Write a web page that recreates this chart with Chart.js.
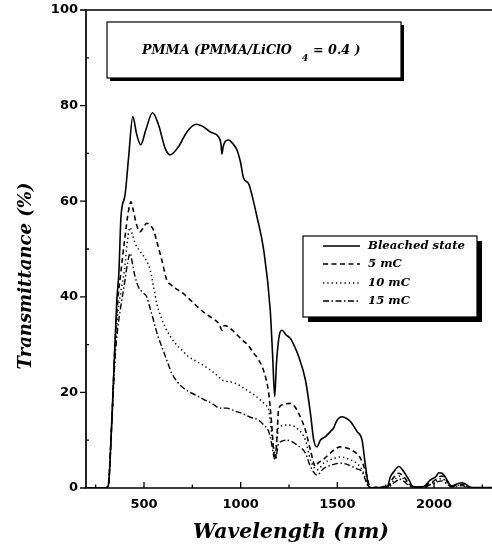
<!DOCTYPE html>
<html><head><meta charset="utf-8">
<script src="https://cdn.jsdelivr.net/npm/chart.js@4/dist/chart.umd.min.js"></script>
<style>html,body{margin:0;padding:0;background:#fff;}canvas{display:block;}</style>
</head><body>
<canvas id="c" width="492" height="551"></canvas>
<script>
const SERIES_LABELS = ['Bleached state', '5 mC', '10 mC', '15 mC'];

const WL_BLEACHED = [200,300,315,333,359,370,381,402,420,442,462,483,510,544,575,610,635,680,722,770,810,842,885,898,903,910,920,937,960,981,1000,1015,1041,1060,1084,1119,1153,1165,1176,1185,1200,1214,1235,1257,1280,1300,1335,1361,1378,1395,1412,1437,1464,1480,1499,1524,1550,1568,1602,1628,1646,1663,1680,1700,1720,1740,1758,1775,1792,1818,1844,1870,1892,1920,1948,1965,1982,1995,2010,2025,2042,2060,2080,2094,2110,2130,2146,2165,2180,2200,2300];
const T_BLEACHED = [0,0,0.5,13.5,39,45,56.8,61.3,69,77.7,74,71.8,75,78.5,76,71,69.7,71.5,74.5,76.1,75.5,74.5,73.5,72,69.9,71.5,72.5,72.8,72,70.7,68,64.8,63.7,61,56.8,49.8,37.2,28,19.1,26,32,33,32,31.3,29.5,27.5,22.6,15.6,10,8.6,10,10.7,11.8,12.5,14.2,14.9,14.5,13.9,11.8,10,4.5,0.3,0,0.2,0,0.3,0.3,2.4,3.4,4.5,3.4,1.7,0.3,0.2,0.3,1.0,1.7,2.0,2.4,3.2,3.1,2.2,0.8,0.4,0.7,1.0,1.1,0.8,0.3,0.1,0.1];

const WL_5MC = [200,300,315,333,350,363,380,400,420,433,445,462,480,497,514,530,549,570,592,618,640,661,700,730,780,817,868,890,903,915,937,970,1007,1040,1067,1090,1119,1145,1160,1170,1179,1188,1196,1214,1257,1280,1300,1335,1361,1387,1400,1425,1464,1490,1516,1545,1576,1620,1654,1670,1700,1760,1780,1800,1818,1840,1870,1892,1950,1975,2000,2020,2042,2065,2090,2120,2146,2175,2200,2300];
const T_5MC = [0,0,0.5,13.5,30,38.7,45,52,58,59.9,58,55,53.6,54.5,55.4,55,54,51,47.7,43.5,42.5,41.8,40.8,39.7,37.8,36.5,35.1,34.2,33,34,33.7,32.5,31,29.8,28.2,27,24.5,19.8,13.5,8,6,11,16.3,17.4,17.7,17,15.6,12.1,7.9,4.5,5.2,5.9,7.3,8.2,8.6,8.4,7.9,6.2,2.4,0,0.1,0.2,1.6,2.6,3.1,2.5,1.0,0.2,0.2,1.0,1.5,2.2,2.5,1.6,0.4,0.6,0.8,0.3,0,0];

const WL_10MC = [200,300,315,333,350,363,380,400,415,428,440,454,480,506,532,550,566,590,609,635,661,700,730,780,817,860,885,903,920,972,1020,1058,1100,1127,1145,1160,1170,1179,1188,1196,1239,1291,1335,1361,1395,1430,1470,1516,1560,1600,1628,1650,1665,1760,1785,1805,1818,1840,1870,1895,1950,1975,2000,2025,2042,2065,2090,2120,2146,2175,2200,2300];
const T_10MC = [0,0,0.5,13.5,28,36,41,46,52,54.5,53,51.2,49.5,48,45.6,42,38.6,35.5,33.7,31.8,30.3,28.7,27.5,26.3,25.4,24.2,23.3,22.6,22.4,21.9,20.8,19.8,18.5,17.4,16.3,11.4,8.5,7.3,10,12.5,13.2,12.5,10,5.9,3.8,5.2,6.0,6.5,6.0,5.2,3.8,1.5,0,0.2,1.3,2.1,2.5,2.0,0.8,0.1,0.1,0.8,1.2,1.8,2.0,1.2,0.3,0.5,0.6,0.2,0,0];

const WL_15MC = [200,300,315,333,350,363,380,400,415,428,440,454,471,490,514,530,549,570,592,620,644,670,696,730,765,810,851,894,929,970,1007,1050,1093,1119,1145,1160,1172,1179,1188,1196,1239,1291,1335,1361,1395,1430,1470,1516,1560,1600,1628,1650,1665,1760,1790,1810,1818,1840,1870,1895,1950,1975,2000,2025,2042,2065,2090,2120,2146,2175,2200,2300];
const T_15MC = [0,0,0.5,13.5,27,33,38,43,47,49.1,47,44.2,42.1,41,40,37.8,35.1,32,29.6,26.5,24,22.3,21.2,20.2,19.5,18.5,17.7,16.7,16.7,16.1,15.6,14.8,14.2,13.2,11.8,9.3,6.5,5.9,7.5,9.3,10,9,7.3,4.5,2.7,4.1,4.8,5.2,4.8,4.0,3.4,1.2,0,0.1,1.0,1.6,1.9,1.5,0.5,0,0,0.6,0.9,1.4,1.5,0.9,0.2,0.4,0.5,0.1,0,0];

const X_TICKS = [500, 1000, 1500, 2000];
const X_MINOR = [250, 750, 1250, 1750, 2250];
const Y_TICKS = [0, 20, 40, 60, 80, 100];
const Y_MINOR = [10, 30, 50, 70, 90];

const DASHES = [[], [5, 3.5], [1.3, 3], [6, 2.5, 1.5, 2.5]];
const WIDTHS = [1.6, 1.6, 1.5, 1.4];

function pts(xs, ys) { return xs.map((x, i) => ({x: x, y: ys[i]})); }

const SERIF = '"DejaVu Serif", "Liberation Serif", serif';
function fitFont(ctx, text, targetW) {
  ctx.font = 'italic bold 20px ' + SERIF;
  const w = ctx.measureText(text).width;
  return 20 * targetW / w;
}

const deco = {
  id: 'deco',
  afterDatasetsDraw(chart) {
    const ctx = chart.ctx, xs = chart.scales.x, ys = chart.scales.y, a = chart.chartArea;
    ctx.save();
    ctx.strokeStyle = '#000';
    ctx.fillStyle = '#000';
    ctx.lineWidth = 1.7;
    ctx.setLineDash([]);
    // frame
    ctx.beginPath();
    ctx.moveTo(a.right + 2, a.top); ctx.lineTo(a.left, a.top);
    ctx.lineTo(a.left, a.bottom); ctx.lineTo(a.right + 2, a.bottom);
    ctx.stroke();
    ctx.lineWidth = 1.3;
    ctx.beginPath();
    X_TICKS.forEach(v => { const p = xs.getPixelForValue(v); ctx.moveTo(p, a.bottom); ctx.lineTo(p, a.bottom - 6); });
    X_MINOR.forEach(v => { const p = xs.getPixelForValue(v); ctx.moveTo(p, a.bottom); ctx.lineTo(p, a.bottom - 3.5); });
    Y_TICKS.forEach(v => { const p = ys.getPixelForValue(v); ctx.moveTo(a.left - 6, p); ctx.lineTo(a.left, p); });
    Y_MINOR.forEach(v => { const p = ys.getPixelForValue(v); ctx.moveTo(a.left, p); ctx.lineTo(a.left + 3, p); });
    ctx.stroke();

    // title box
    ctx.fillRect(110, 25, 294, 56);
    ctx.fillStyle = '#fff';
    ctx.fillRect(107, 22, 294, 56);
    ctx.lineWidth = 1.2;
    ctx.strokeRect(107, 22, 294, 56);
    ctx.fillStyle = '#000';
    const t1 = 'PMMA (PMMA/LiClO';
    const fs = fitFont(ctx, t1, 150);
    ctx.font = 'italic bold ' + fs.toFixed(2) + 'px ' + SERIF;
    ctx.textBaseline = 'alphabetic';
    ctx.textAlign = 'left';
    ctx.fillText(t1, 142, 54);
    ctx.font = 'italic bold ' + (fs * 0.72).toFixed(2) + 'px ' + SERIF;
    ctx.fillText('4', 302, 61);
    ctx.font = 'italic bold ' + fs.toFixed(2) + 'px ' + SERIF;
    ctx.fillText('= 0.4 )', 313, 54);

    // legend box
    ctx.fillRect(308, 241, 174, 81);
    ctx.fillStyle = '#fff';
    ctx.fillRect(303, 236, 174, 81);
    ctx.strokeRect(303, 236, 174, 81);
    ctx.fillStyle = '#000';
    const lfs = fitFont(ctx, SERIES_LABELS[0], 97);
    const rows = [246, 264, 283, 301];
    chart.data.datasets.forEach((ds, i) => {
      ctx.setLineDash(ds.borderDash || []);
      ctx.lineWidth = ds.borderWidth;
      ctx.beginPath();
      ctx.moveTo(323, rows[i]); ctx.lineTo(360, rows[i]);
      ctx.stroke();
      ctx.setLineDash([]);
      ctx.font = 'italic bold ' + lfs.toFixed(2) + 'px ' + SERIF;
      ctx.textBaseline = 'middle';
      ctx.fillText(ds.label, 368, rows[i]);
    });

    // axis titles
    const yt = 'Transmittance (%)';
    const yfs = fitFont(ctx, yt, 187);
    ctx.font = 'italic bold ' + yfs.toFixed(2) + 'px ' + SERIF;
    ctx.textAlign = 'center';
    ctx.textBaseline = 'middle';
    ctx.save();
    ctx.translate(26, 276);
    ctx.rotate(-Math.PI / 2);
    ctx.fillText(yt, 0, 0);
    ctx.restore();
    const xt = 'Wavelength (nm)';
    const xfs = fitFont(ctx, xt, 196);
    ctx.font = 'italic bold ' + xfs.toFixed(2) + 'px ' + SERIF;
    ctx.fillText(xt, 291, 533);
    ctx.restore();
  }
};

const tickFont = {family: '"DejaVu Sans", sans-serif', weight: 'bold', size: 13};

new Chart(document.getElementById('c'), {
  type: 'line',
  data: {
    datasets: [
      {label: SERIES_LABELS[0], data: pts(WL_BLEACHED, T_BLEACHED)},
      {label: SERIES_LABELS[1], data: pts(WL_5MC, T_5MC)},
      {label: SERIES_LABELS[2], data: pts(WL_10MC, T_10MC)},
      {label: SERIES_LABELS[3], data: pts(WL_15MC, T_15MC)}
    ].map((d, i) => Object.assign(d, {
      borderColor: '#000', borderWidth: WIDTHS[i], borderDash: DASHES[i],
      pointRadius: 0, fill: false, cubicInterpolationMode: 'monotone'
    }))
  },
  options: {
    responsive: false, animation: false, devicePixelRatio: 1,
    layout: {padding: {top: 10, right: 0, left: 0, bottom: 0}},
    plugins: {legend: {display: false}, tooltip: {enabled: false}},
    scales: {
      x: {
        type: 'linear', min: 200, max: 2300,
        afterFit: s => { s.height = 63; },
        afterBuildTicks: s => { s.ticks = X_TICKS.map(v => ({value: v})); },
        grid: {display: false, drawTicks: false},
        border: {display: false},
        ticks: {font: tickFont, color: '#000', padding: 9, maxRotation: 0, autoSkip: false, callback: v => String(v)}
      },
      y: {
        type: 'linear', min: 0, max: 100,
        afterFit: s => { s.width = 86; },
        afterBuildTicks: s => { s.ticks = Y_TICKS.map(v => ({value: v})); },
        grid: {display: false, drawTicks: true, tickLength: 6},
        border: {display: false},
        ticks: {font: tickFont, color: '#000', padding: 2, autoSkip: false, callback: v => String(v)}
      }
    }
  },
  plugins: [deco]
});
</script>
</body></html>
